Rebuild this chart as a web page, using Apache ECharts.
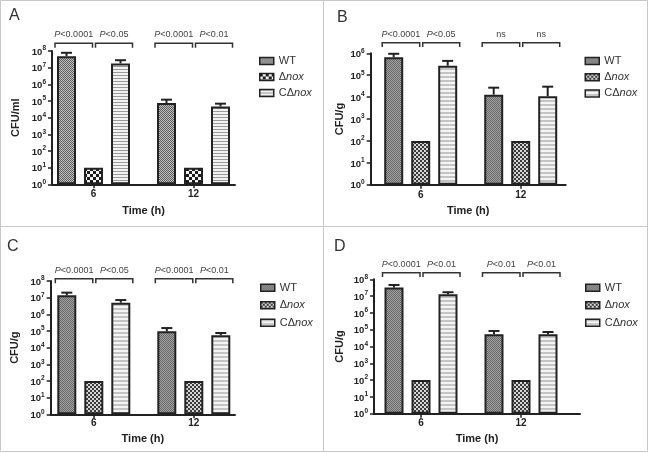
<!DOCTYPE html>
<html><head><meta charset="utf-8">
<script src="https://cdn.jsdelivr.net/npm/echarts@6/dist/echarts.min.js"></script>
<style>html,body{margin:0;padding:0;background:#fff}#c{width:648px;height:453px}</style>
</head><body><div id="c"></div><script>
// ---------------- data ----------------
const categories = ['6', '12'];
const groupNames = ['WT', 'Δnox', 'CΔnox'];
const panelLetters = ['A', 'B', 'C', 'D'];
const yAxisNames = ['CFU/ml', 'CFU/g', 'CFU/g', 'CFU/g'];
const xAxisName = 'Time (h)';
const yMaxExp = [8, 6, 8, 8];

// Panel A
const wtA = [4.9e7, 7.6e4], wtA_hi = [7.8e7, 1.2e5];
const noxA = [10, 10];
const cA = [1.8e7, 4.7e4], cA_hi = [2.8e7, 6.9e4];
const pA = ['P<0.0001', 'P<0.05', 'P<0.0001', 'P<0.01'];
// Panel B
const wtB = [6.6e5, 1.3e4], wtB_hi = [9.5e5, 2.7e4];
const noxB = [100, 100];
const cB = [2.7e5, 1.1e4], cB_hi = [4.5e5, 3.0e4];
const pB = ['P<0.0001', 'P<0.05', 'ns', 'ns'];
// Panel C
const wtC = [1.4e7, 9.5e4], wtC_hi = [2.0e7, 1.5e5];
const noxC = [100, 100];
const cC = [5.0e6, 5.5e4], cC_hi = [7.2e6, 7.6e4];
const pC = ['P<0.0001', 'P<0.05', 'P<0.0001', 'P<0.01'];
// Panel D
const wtD = [3.2e7, 5.3e4], wtD_hi = [4.6e7, 8.4e4];
const noxD = [100, 100];
const cD = [1.3e7, 5.3e4], cD_hi = [1.7e7, 7.3e4];
const pD = ['P<0.0001', 'P<0.01', 'P<0.01', 'P<0.01'];

const panelData = [
  {wt: wtA, wtHi: wtA_hi, nox: noxA, c: cA, cHi: cA_hi, p: pA},
  {wt: wtB, wtHi: wtB_hi, nox: noxB, c: cB, cHi: cB_hi, p: pB},
  {wt: wtC, wtHi: wtC_hi, nox: noxC, c: cC, cHi: cC_hi, p: pC},
  {wt: wtD, wtHi: wtD_hi, nox: noxD, c: cD, cHi: cD_hi, p: pD}
];

// ---------------- layout / style ----------------
const layout = [
  {barL: 43.5, barR: 243.5, axL: 52, axR: 235, top: 51, bottom: 184.3, yGap: 31, xGap: 21, catM: 5,
   brk: 7.7, drop: 4.4, txt: 16.7, legL: 259, legT: 55, legGap: 4, letX: 9, letY: 8},
  {barL: 370.7, barR: 570.7, axL: 370.7, axR: 565.7, top: 53.3, bottom: 184.8, yGap: 25.5, xGap: 20.5, catM: 5,
   brk: 10.6, drop: 4.2, txt: 19, legL: 584.5, legT: 55, legGap: 4.2, letX: 337, letY: 9.5},
  {barL: 43.8, barR: 243.8, axL: 50.7, axR: 235, top: 281, bottom: 414.3, yGap: 30, xGap: 19, catM: 4,
   brk: 2.3, drop: 4.6, txt: 10.7, legL: 260, legT: 281.7, legGap: 5.5, letX: 7, letY: 239},
  {barL: 371, barR: 571, axL: 374, axR: 580, top: 279.3, bottom: 413.7, yGap: 29, xGap: 20, catM: 4.5,
   brk: 6.6, drop: 4.4, txt: 15, legL: 585, legT: 281.7, legGap: 5.5, letX: 334, letY: 239}
];
const BW = 19, GAP = 8;
const FONT = '"Liberation Sans", Arial, sans-serif';
const INK = '#222';

function pat(w, h, draw) {
  const cv = document.createElement('canvas'); cv.width = w; cv.height = h;
  draw(cv.getContext('2d')); return {image: cv, repeat: 'repeat'};
}
const checker = (s, a, b) => pat(2 * s, 2 * s, g => {
  g.fillStyle = b; g.fillRect(0, 0, 2 * s, 2 * s);
  g.fillStyle = a; g.fillRect(0, 0, s, s); g.fillRect(s, s, s, s);
});
const stripes = (p, lw, a, b) => pat(4, p, g => {
  g.fillStyle = b; g.fillRect(0, 0, 4, p);
  g.fillStyle = a; g.fillRect(0, 0, 4, lw);
});
const patterns = [
  [checker(1, '#5a5a5a', '#c4c4c4'), checker(3, '#1c1c1c', '#f4f4f4'), stripes(3, 1, '#9a9a9a', '#f2f2f2')],
  [checker(1, '#666', '#a4a4a4'), checker(2, '#3a3a3a', '#d6d6d6'), stripes(4, 2, '#c4c4c4', '#f4f4f4')],
  [checker(1, '#666', '#a4a4a4'), checker(2, '#3a3a3a', '#d6d6d6'), stripes(4, 2, '#c4c4c4', '#f4f4f4')],
  [checker(1, '#666', '#a4a4a4'), checker(2, '#3a3a3a', '#d6d6d6'), stripes(4, 2, '#c4c4c4', '#f4f4f4')]
];

function richName(n) {
  if (n === 'WT') return '{n|WT}';
  if (n === 'Δnox') return '{n|Δ}{i|nox}';
  return '{n|CΔ}{i|nox}';
}
function richP(t) {
  if (t.indexOf('P') === 0) return '{i|P}{n|' + t.slice(1) + '}';
  return '{n|' + t + '}';
}

const grid = [], xAxis = [], yAxis = [], series = [], legend = [], title = [];
panelData.forEach((D, i) => {
  const L = layout[i], exp = yMaxExp[i], yMax = Math.pow(10, exp);
  const h = L.bottom - L.top;
  const gb = grid.length;
  grid.push({left: L.barL, top: L.top, width: L.barR - L.barL, height: h});
  grid.push({left: L.axL, top: L.top, width: L.axR - L.axL, height: h});
  // bar grid axes
  xAxis.push({gridIndex: gb, type: 'category', data: categories, axisLine: {show: false},
    axisTick: {show: true, alignWithLabel: true, length: 4, lineStyle: {color: INK, width: 1.5}},
    axisLabel: {fontFamily: FONT, fontWeight: 'bold', fontSize: 10, color: INK, margin: L.catM},
    splitLine: {show: false}});
  yAxis.push({gridIndex: gb, type: 'log', logBase: 10, min: 1, max: yMax, show: false});
  // visible axes grid
  xAxis.push({gridIndex: gb + 1, type: 'value', min: 0, max: 1,
    axisLine: {show: true, lineStyle: {color: INK, width: 2}}, axisTick: {show: false},
    axisLabel: {show: false}, splitLine: {show: false},
    name: xAxisName, nameLocation: 'middle', nameGap: L.xGap,
    nameTextStyle: {fontFamily: FONT, fontWeight: 'bold', fontSize: 11, color: INK}});
  yAxis.push({gridIndex: gb + 1, type: 'log', logBase: 10, min: 1, max: yMax, splitNumber: exp,
    axisLine: {show: true, lineStyle: {color: INK, width: 2}},
    axisTick: {show: true, length: 4, lineStyle: {color: INK, width: 1.5}},
    minorTick: {show: false}, splitLine: {show: false},
    axisLabel: {margin: 6, formatter: v => '{b|10}{s|' + Math.round(Math.log10(v)) + '}',
      rich: {b: {fontFamily: FONT, fontSize: 9.5, fontWeight: 'bold', color: INK, lineHeight: 12, verticalAlign: 'bottom'},
             s: {fontFamily: FONT, fontSize: 6.5, fontWeight: 'bold', color: INK, lineHeight: 5, verticalAlign: 'top'}}},
    name: yAxisNames[i], nameLocation: 'middle', nameGap: L.yGap,
    nameTextStyle: {fontFamily: FONT, fontWeight: 'bold', fontSize: 11, color: INK}});

  const vals = [D.wt, D.nox, D.c];
  groupNames.forEach((n, k) => {
    series.push({type: 'bar', name: panelLetters[i] + ':' + n, xAxisIndex: gb, yAxisIndex: gb,
      data: vals[k], barWidth: BW, barGap: (GAP / BW * 100) + '%', z: 3,
      itemStyle: {color: patterns[i][k], borderColor: INK, borderWidth: 2}});
  });
  // error bars: [category, slot, mean, upper]
  const errData = [];
  categories.forEach((c, ci) => {
    errData.push([ci, 0, D.wt[ci], D.wtHi[ci]]);
    errData.push([ci, 2, D.c[ci], D.cHi[ci]]);
  });
  series.push({type: 'custom', xAxisIndex: gb, yAxisIndex: gb, data: errData, z: 2, silent: true,
    renderItem: (params, api) => {
      const cat = api.value(0), slot = api.value(1);
      const top = api.coord([cat, api.value(3)]), base = api.coord([cat, api.value(2)]);
      const x = top[0] + (slot - 1) * (BW + GAP);
      return {type: 'group', children: [
        {type: 'line', shape: {x1: x, y1: base[1], x2: x, y2: top[1]}, style: {stroke: INK, lineWidth: 2}},
        {type: 'line', shape: {x1: x - 5.5, y1: top[1], x2: x + 5.5, y2: top[1]}, style: {stroke: INK, lineWidth: 2}}
      ]};
    }});
  // significance brackets: [category, side]
  const brData = [[0, 0], [0, 1], [1, 0], [1, 1]];
  series.push({type: 'custom', xAxisIndex: gb, yAxisIndex: gb, data: brData, silent: true, clip: false,
    renderItem: (params, api) => {
      const cat = api.value(0), side = api.value(1);
      const c = api.coord([cat, yMax]);
      const yTop = c[1] - L.brk, yEnd = yTop + L.drop;
      const x1 = side === 0 ? c[0] - 38.5 : c[0] + 2;
      const x2 = side === 0 ? c[0] - 1 : c[0] + 39;
      return {type: 'group', children: [
        {type: 'polyline', shape: {points: [[x1, yEnd], [x1, yTop], [x2, yTop], [x2, yEnd]]},
          style: {stroke: '#333', lineWidth: 1.5, fill: null}},
        {type: 'text', style: {text: richP(D.p[params.dataIndex]), x: (x1 + x2) / 2, y: c[1] - L.txt,
          align: 'center', verticalAlign: 'middle',
          rich: {i: {fontFamily: FONT, fontSize: 9, fontStyle: 'italic', fill: '#444'},
                 n: {fontFamily: FONT, fontSize: 9, fill: '#444'}}}}
      ]};
    }});
  legend.push({orient: 'vertical', left: L.legL, top: L.legT, padding: 0, itemWidth: 14, itemHeight: 7,
    itemGap: L.legGap, icon: 'rect', selectedMode: false,
    data: groupNames.map(n => panelLetters[i] + ':' + n),
    formatter: name => richName(name.split(':')[1]),
    itemStyle: {borderColor: INK, borderWidth: 1.5},
    textStyle: {fontFamily: FONT, fontSize: 11, color: '#333', lineHeight: 12,
      rich: {n: {fontFamily: FONT, fontSize: 11, color: '#333', lineHeight: 12},
             i: {fontFamily: FONT, fontSize: 11, color: '#333', fontStyle: 'italic', lineHeight: 12}}}});
  title.push({text: panelLetters[i], left: L.letX, top: L.letY, padding: 0,
    textStyle: {fontFamily: FONT, fontSize: 16, fontWeight: 'normal', color: '#333'}});
});

const frame = '#c8c8c8';
const option = {
  backgroundColor: '#fff', animation: false,
  title, legend, grid, xAxis, yAxis, series,
  graphic: [
    {type: 'rect', shape: {x: 0.5, y: 0.5, width: 647, height: 451}, style: {fill: null, stroke: frame, lineWidth: 1}, silent: true},
    {type: 'line', shape: {x1: 323.5, y1: 0.5, x2: 323.5, y2: 451.5}, style: {stroke: frame, lineWidth: 1}, silent: true},
    {type: 'line', shape: {x1: 0.5, y1: 226.5, x2: 647.5, y2: 226.5}, style: {stroke: frame, lineWidth: 1}, silent: true}
  ]
};
const chart = echarts.init(document.getElementById('c'), null, {renderer: 'canvas'});
chart.setOption(option);
</script></body></html>
